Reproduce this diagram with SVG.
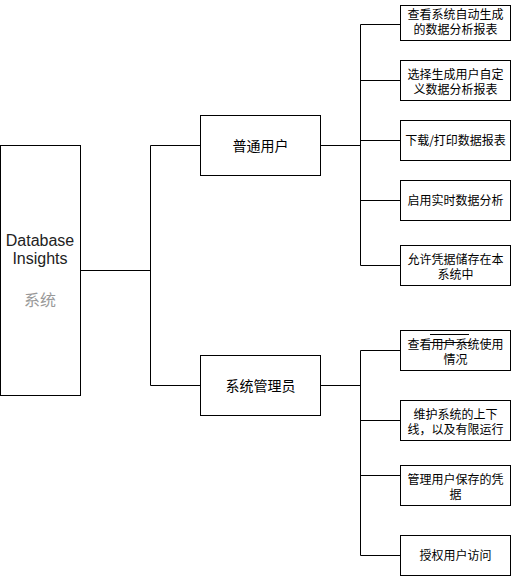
<svg xmlns="http://www.w3.org/2000/svg" width="511" height="576" viewBox="0 0 511 576">
<style>
.box{fill:#fff;stroke:#000;stroke-width:1}
.ln{fill:none;stroke:#000;stroke-width:1}
.t{font-family:"Noto Sans CJK SC","Liberation Sans",sans-serif;fill:#000;text-anchor:middle}
.s{font-size:12px}
.m{font-size:14px}
.en{font-family:"Liberation Sans","Noto Sans CJK SC",sans-serif;font-size:16px;fill:#222;text-anchor:middle}
.g{font-family:"Noto Sans CJK SC",sans-serif;font-size:16px;fill:#999;text-anchor:middle}
</style>
<rect width="511" height="576" fill="#fff"/>
<g id="connectors">
<path class="ln" d="M80.5 270.5H150.5M150.5 145.5V385.5M150.5 145.5H200.5M150.5 385.5H200.5"/>
<path class="ln" d="M320.5 145.5H360.5M360.5 24.5V265.5M360.5 24.5H400.5M360.5 80.5H400.5M360.5 140.5H400.5M360.5 200.5H400.5M360.5 265.5H400.5"/>
<path class="ln" d="M320.5 385.5H360.5M360.5 350.5V555.5M360.5 350.5H400.5M360.5 420.5H400.5M360.5 475.5H400.5M360.5 555.5H400.5"/>
</g>
<g id="root">
<rect class="box" x="0.5" y="145.5" width="80" height="250"/>
<text class="en" x="40" y="246">Database</text>
<text class="en" x="40" y="264">Insights</text>
<text class="g" x="40" y="306">系统</text>
</g>
<g id="user">
<rect class="box" x="200.5" y="115.5" width="120" height="60"/>
<text class="t m" x="260.5" y="150.5">普通用户</text>
</g>
<g id="admin">
<rect class="box" x="200.5" y="355.5" width="120" height="60"/>
<text class="t m" x="260.5" y="390.5">系统管理员</text>
</g>
<g id="u1">
<rect class="box" x="400.5" y="5.5" width="110" height="35"/>
<text class="t s" x="455.5" y="19">查看系统自动生成</text>
<text class="t s" x="455.5" y="33.5">的数据分析报表</text>
</g>
<g id="u2">
<rect class="box" x="400.5" y="60.5" width="110" height="40"/>
<text class="t s" x="455.5" y="78.5">选择生成用户自定</text>
<text class="t s" x="455.5" y="93.5">义数据分析报表</text>
</g>
<g id="u3">
<rect class="box" x="400.5" y="120.5" width="110" height="40"/>
<text class="t s" x="455.5" y="145">下载/打印数据报表</text>
</g>
<g id="u4">
<rect class="box" x="400.5" y="180.5" width="110" height="40"/>
<text class="t s" x="455.5" y="205">启用实时数据分析</text>
</g>
<g id="u5">
<rect class="box" x="400.5" y="245.5" width="110" height="40"/>
<text class="t s" x="455.5" y="263.5">允许凭据储存在本</text>
<text class="t s" x="455.5" y="278.5">系统中</text>
</g>
<g id="a1">
<rect class="box" x="400.5" y="330.5" width="110" height="40"/>
<text class="t s" x="455.5" y="348.5">查看用户系统使用</text>
<text class="t s" x="455.5" y="363.5">情况</text>
<path class="ln" d="M430 334.5H469M430 342.5H470"/>
</g>
<g id="a2">
<rect class="box" x="400.5" y="400.5" width="110" height="40"/>
<text class="t s" x="455.5" y="418.5">维护系统的上下</text>
<text class="t s" x="455.5" y="433.5">线，以及有限运行</text>
</g>
<g id="a3">
<rect class="box" x="400.5" y="465.5" width="110" height="40"/>
<text class="t s" x="455.5" y="483.5">管理用户保存的凭</text>
<text class="t s" x="455.5" y="498.5">据</text>
</g>
<g id="a4">
<rect class="box" x="400.5" y="535.5" width="110" height="40"/>
<text class="t s" x="455.5" y="560">授权用户访问</text>
</g>
</svg>
